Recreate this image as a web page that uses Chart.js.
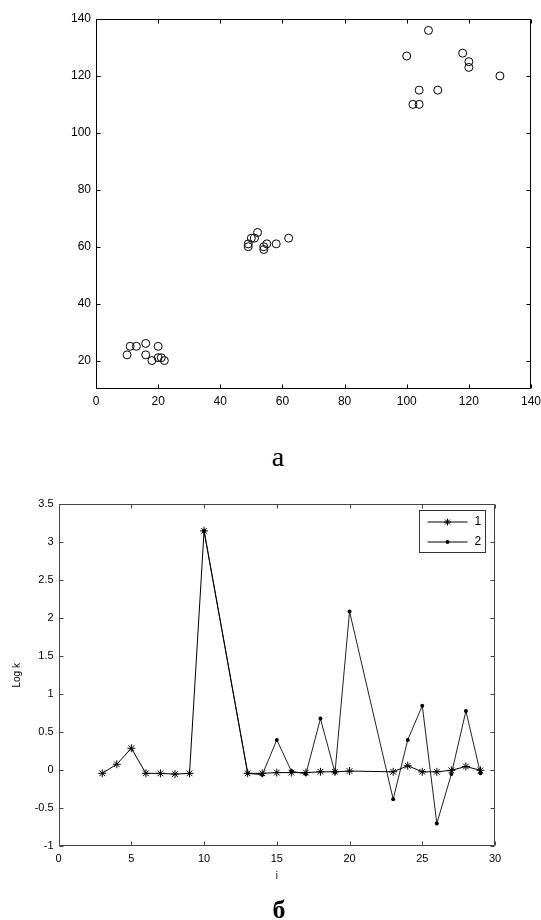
<!DOCTYPE html>
<html>
<head>
<meta charset="utf-8">
<script src="https://cdn.jsdelivr.net/npm/chart.js@4.4.0/dist/chart.umd.min.js"></script>
<style>
body { margin: 0; background: #fff; width: 541px; height: 920px; position: relative; overflow: hidden; }
canvas { position: absolute; left: 0; }
.cap { position: absolute; font-family: "Liberation Serif", "Times New Roman", serif; color: #000; white-space: nowrap; transform: translateX(-50%); }
</style>
</head>
<body>
<canvas id="scatter" width="541" height="440" style="top:0"></canvas>
<div class="cap" style="left:278px;top:443px;font-size:28px;line-height:28px">а</div>
<canvas id="logk" width="541" height="440" style="top:480px"></canvas>
<div class="cap" style="left:279px;top:897px;font-size:26px;line-height:26px;font-weight:bold">б</div>
<script>
// top picture: three clusters of points
const ptX = [10, 11, 13, 16, 16, 18, 20, 20, 21, 22,
             49, 49, 50, 51, 52, 54, 54, 55, 58, 62,
             100, 102, 104, 104, 107, 110, 118, 120, 120, 130];
const ptY = [22, 25, 25, 26, 22, 20, 25, 21, 21, 20,
             61, 60, 63, 63, 65, 60, 59, 61, 61, 63,
             127, 110, 110, 115, 136, 115, 128, 125, 123, 120];

// bottom picture: Log k against i
const i1 = [3, 4, 5, 6, 7, 8, 9, 10, 13, 14, 15, 16, 17, 18, 19, 20, 23, 24, 25, 26, 27, 28, 29];
const logk1 = [-0.04, 0.08, 0.29, -0.04, -0.04, -0.05, -0.04, 3.15, -0.04, -0.04, -0.03, -0.03,
               -0.03, -0.02, -0.02, -0.01, -0.02, 0.06, -0.02, -0.02, 0.0, 0.05, 0.0];
const i2 = [10, 13, 14, 15, 16, 17, 18, 19, 20, 23, 24, 25, 26, 27, 28, 29];
const logk2 = [3.15, -0.04, -0.06, 0.40, -0.01, -0.05, 0.68, -0.03, 2.09, -0.38, 0.40, 0.85,
               -0.70, -0.05, 0.78, -0.04];
const seriesNames = ['1', '2'];

Chart.defaults.color = '#000';
Chart.defaults.font.family = '"Liberation Sans", Arial, sans-serif';

const toPoints = (xs, ys) => xs.map((x, k) => ({ x: x, y: ys[k] }));

// fixed axis sizes so the plot box lands where it is in the picture
const fixWidth = w => s => { s.width = w; s.paddingTop = 0; s.paddingBottom = 0; };
const fixHeight = h => s => { s.height = h; s.paddingLeft = 0; s.paddingRight = 0; };

// box round the plot with ticks pointing inward on every side
const frame = {
	id: 'frame',
	afterDatasetsDraw(chart, args, opts) {
		const { ctx, chartArea: a, scales } = chart;
		const L = Math.round(a.left) + 0.5, R = Math.round(a.right) - 0.5;
		const T = Math.round(a.top) + 0.5, B = Math.round(a.bottom) - 0.5;
		ctx.save();
		ctx.strokeStyle = opts.color;
		ctx.lineWidth = 1;
		ctx.beginPath();
		ctx.moveTo(L, T); ctx.lineTo(R, T); ctx.lineTo(R, B); ctx.lineTo(L, B); ctx.closePath();
		scales.x.ticks.forEach(t => {
			const x = Math.round(scales.x.getPixelForValue(t.value)) + 0.5;
			ctx.moveTo(x, B); ctx.lineTo(x, B - opts.len);
			ctx.moveTo(x, T); ctx.lineTo(x, T + opts.len);
		});
		scales.y.ticks.forEach(t => {
			const y = Math.round(scales.y.getPixelForValue(t.value)) + 0.5;
			ctx.moveTo(L, y); ctx.lineTo(L + opts.len, y);
			ctx.moveTo(R, y); ctx.lineTo(R - opts.len, y);
		});
		ctx.stroke();
		ctx.restore();
	}
};

// matlab style legend box: line with marker in the middle
const lineLegend = {
	id: 'lineLegend',
	afterDraw(chart) {
		const { ctx, chartArea: a } = chart;
		const bx = Math.round(a.right - 76) + 0.5, by = Math.round(a.top + 6) + 0.5;
		const bw = 66, bh = 42;
		ctx.save();
		ctx.fillStyle = '#fff';
		ctx.fillRect(bx, by, bw, bh);
		ctx.strokeStyle = '#333';
		ctx.lineWidth = 1;
		ctx.strokeRect(bx, by, bw, bh);
		ctx.font = '12px "Liberation Sans", Arial, sans-serif';
		ctx.textBaseline = 'middle';
		ctx.fillStyle = '#000';
		chart.data.datasets.forEach((ds, k) => {
			const y = by + 11.5 + k * 20;
			const mx = bx + 28;
			ctx.strokeStyle = '#000';
			ctx.beginPath();
			ctx.moveTo(bx + 8, y); ctx.lineTo(bx + 48, y);
			ctx.stroke();
			if (ds.pointStyle === 'star') {
				const r = 3.5;
				ctx.beginPath();
				ctx.moveTo(mx - r, y); ctx.lineTo(mx + r, y);
				ctx.moveTo(mx, y - r); ctx.lineTo(mx, y + r);
				ctx.moveTo(mx - r * 0.7, y - r * 0.7); ctx.lineTo(mx + r * 0.7, y + r * 0.7);
				ctx.moveTo(mx - r * 0.7, y + r * 0.7); ctx.lineTo(mx + r * 0.7, y - r * 0.7);
				ctx.stroke();
			} else {
				ctx.beginPath();
				ctx.arc(mx, y, 2, 0, Math.PI * 2);
				ctx.fill();
			}
			ctx.fillText(ds.label, bx + 55, y);
		});
		ctx.restore();
	}
};

new Chart(document.getElementById('scatter'), {
	type: 'scatter',
	data: {
		datasets: [{
			data: toPoints(ptX, ptY),
			pointStyle: 'circle',
			pointRadius: 4,
			pointBorderWidth: 1,
			borderColor: '#000',
			backgroundColor: 'rgba(0,0,0,0)'
		}]
	},
	options: {
		responsive: false,
		animation: false,
		layout: { padding: { top: 19, right: 10, left: 0, bottom: 0 } },
		plugins: {
			legend: { display: false },
			tooltip: { enabled: false },
			frame: { color: '#000', len: 4 }
		},
		scales: {
			x: {
				type: 'linear', min: 0, max: 140,
				grid: { display: false, drawTicks: false },
				border: { display: false },
				ticks: { stepSize: 20, padding: 5, font: { size: 12 } },
				afterFit: fixHeight(51)
			},
			y: {
				min: 10, max: 140,
				grid: { display: false, drawTicks: false },
				border: { display: false },
				ticks: { stepSize: 20, includeBounds: false, padding: 5, font: { size: 12 } },
				afterFit: fixWidth(96)
			}
		}
	},
	plugins: [frame]
});

new Chart(document.getElementById('logk'), {
	type: 'scatter',
	data: {
		datasets: [{
			label: seriesNames[0],
			data: toPoints(i1, logk1),
			showLine: true,
			borderColor: '#000',
			borderWidth: 1,
			pointStyle: 'star',
			pointRadius: 4,
			pointBorderWidth: 1,
			pointBorderColor: '#000',
			backgroundColor: '#000'
		}, {
			label: seriesNames[1],
			data: toPoints(i2, logk2),
			showLine: true,
			borderColor: '#222',
			borderWidth: 1,
			pointStyle: 'circle',
			pointRadius: 2,
			pointBorderWidth: 0,
			pointBackgroundColor: '#000',
			backgroundColor: '#000'
		}]
	},
	options: {
		responsive: false,
		animation: false,
		layout: { padding: { top: 24.3, right: 46, left: 0, bottom: 0 } },
		plugins: {
			legend: { display: false },
			tooltip: { enabled: false },
			frame: { color: '#444', len: 4 }
		},
		scales: {
			x: {
				type: 'linear', min: 0, max: 30,
				grid: { display: false, drawTicks: false },
				border: { display: false },
				ticks: { stepSize: 5, padding: 6, font: { size: 11 } },
				title: { display: true, text: 'i', font: { size: 10 }, padding: { top: 0, bottom: 38 } },
				afterFit: fixHeight(73.7)
			},
			y: {
				min: -1, max: 3.5,
				grid: { display: false, drawTicks: false },
				border: { display: false },
				ticks: { stepSize: 0.5, padding: 5, font: { size: 11 }, callback: v => String(v) },
				title: { display: true, text: 'Log k', font: { size: 10 }, padding: { top: 11, bottom: 0 } },
				afterFit: fixWidth(58.6)
			}
		}
	},
	plugins: [frame, lineLegend]
});
</script>
</body>
</html>
